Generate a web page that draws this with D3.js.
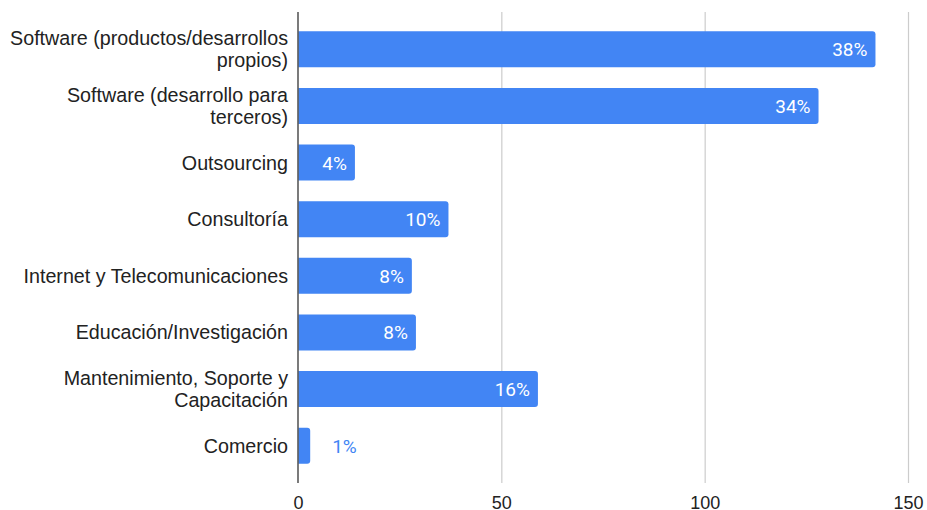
<!DOCTYPE html>
<html>
<head>
<meta charset="utf-8">
<script src="https://cdn.jsdelivr.net/npm/d3@7/dist/d3.min.js"></script>
<style>
  html, body { margin: 0; padding: 0; background: #fff; }
  svg { display: block; }
</style>
</head>
<body>
<svg id="chart" width="927" height="510"></svg>
<script>
// Sectors of activity: respondent counts and their share labels
const categories = [
  ["Software (productos/desarrollos", "propios)"],
  ["Software (desarrollo para", "terceros)"],
  ["Outsourcing"],
  ["Consultoría"],
  ["Internet y Telecomunicaciones"],
  ["Educación/Investigación"],
  ["Mantenimiento, Soporte y", "Capacitación"],
  ["Comercio"]
];
const counts = [142, 128, 14, 37, 28, 29, 59, 3];
const shareLabels = ["38%", "34%", "4%", "10%", "8%", "8%", "16%", "1%"];
const xTicks = [0, 50, 100, 150];

(function () {
  const svg = d3.select("#chart");
  const x0 = 298, x1 = 908, plotTop = 12, plotBottom = 483;
  const barColor = "#4285F4";

  const x = d3.scaleLinear().domain([0, 150]).range([x0, x1]);
  const y = d3.scaleBand()
    .domain(d3.range(categories.length))
    .range([3, 492])
    .paddingInner(0.365)
    .paddingOuter(0.5);

  // Gridlines and tick labels
  const xAxis = d3.axisBottom(x)
    .tickValues(xTicks)
    .tickSize(-(plotBottom - plotTop))
    .tickPadding(13)
    .tickFormat(d3.format("d"));

  const gx = svg.append("g")
    .attr("transform", `translate(0,${plotBottom})`)
    .call(xAxis);
  gx.select(".domain").remove();
  gx.selectAll(".tick line")
    .attr("stroke", "#cccccc")
    .attr("stroke-width", 1.2)
    .filter(d => d === 0).remove();
  gx.selectAll(".tick text")
    .attr("fill", "#222")
    .style("font-family", "'Liberation Sans', Arial, sans-serif")
    .style("font-size", "18px");

  // Bars with rounded right corners
  const r = 3;
  function barPath(v, i) {
    const xl = x(0) + 0.5, xr = x(v), yt = y(i), h = y.bandwidth();
    const p = d3.path();
    p.moveTo(xl, yt);
    p.lineTo(xr - r, yt);
    p.quadraticCurveTo(xr, yt, xr, yt + r);
    p.lineTo(xr, yt + h - r);
    p.quadraticCurveTo(xr, yt + h, xr - r, yt + h);
    p.lineTo(xl, yt + h);
    p.closePath();
    return p.toString();
  }

  svg.append("g").selectAll("path")
    .data(counts)
    .join("path")
    .attr("d", (d, i) => barPath(d, i))
    .attr("fill", barColor);

  // Vertical axis line
  svg.append("line")
    .attr("x1", x(0)).attr("x2", x(0))
    .attr("y1", plotTop).attr("y2", plotBottom)
    .attr("stroke", "#333")
    .attr("stroke-width", 1.3);

  // Category labels
  const lineGap = 22;
  const cat = svg.append("g").selectAll("text")
    .data(categories)
    .join("text")
    .attr("text-anchor", "end")
    .attr("fill", "#222")
    .style("font-family", "'Liberation Sans', Arial, sans-serif")
    .style("font-size", "19.7px");
  cat.each(function (lines, i) {
    const cy = y(i) + y.bandwidth() / 2;
    const t = d3.select(this);
    lines.forEach((ln, k) => {
      t.append("tspan")
        .attr("x", x(0) - 10)
        .attr("y", cy + (k - (lines.length - 1) / 2) * lineGap + 7)
        .text(ln);
    });
  });

  // Share labels: inside the bar end, or just outside when the bar is short
  svg.append("g").selectAll("text")
    .data(counts)
    .join("text")
    .attr("x", d => d < 10 ? x(d) + 22 : x(d) - 8)
    .attr("y", (d, i) => y(i) + y.bandwidth() / 2 + 7)
    .attr("text-anchor", d => d < 10 ? "start" : "end")
    .attr("fill", d => d < 10 ? barColor : "#ffffff")
    .style("font-family", "Roboto, sans-serif")
    .style("font-size", "19px")
    .text((d, i) => shareLabels[i]);
})();
</script>
</body>
</html>
